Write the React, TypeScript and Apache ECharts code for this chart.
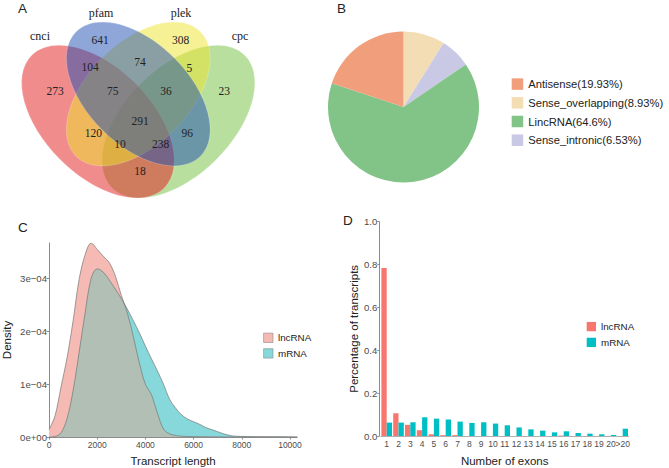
import React, { useEffect, useRef } from "react";
import * as echarts from "echarts";

// ---------- Panel A: Venn ----------
const vennSets = ["cnci", "pfam", "plek", "cpc"];
const vennCounts = [641, 308, 104, 74, 5, 273, 75, 36, 23, 291, 120, 96, 10, 238, 18];

// ---------- Panel B: pie ----------
const pieNames = ["Antisense(19.93%)", "Sense_overlapping(8.93%)", "LincRNA(64.6%)", "Sense_intronic(6.53%)"];
const pieValues = [19.93, 8.93, 64.6, 6.53];

// ---------- Panel C: density (units of 1e-4) ----------
const lengths = [0, 250, 500, 750, 1000, 1250, 1500, 1750, 2000, 2250, 2500, 2750, 3000, 3250, 3500, 3750, 4000, 4250, 4500, 4750, 5000, 5250, 5500, 5750, 6000, 6250, 6500, 6750, 7000, 7250, 7500, 7750, 8000, 8500, 9000, 9500, 10000, 10300];
const lncDensity = [0.14, 0.4, 0.95, 1.5, 2.2, 2.98, 3.45, 3.67, 3.55, 3.42, 3.3, 3.05, 2.68, 2.35, 1.9, 1.4, 1.0, 0.8, 0.45, 0.15, 0.06, 0.03, 0.015, 0.01, 0.008, 0.006, 0.004, 0.003, 0.002, 0.001, 0.001, 0.001, 0.001, 0.0, 0.0, 0.0, 0.0, 0.0];
const mrnaDensity = [0.0, 0.01, 0.08, 0.35, 0.88, 1.6, 2.35, 3.0, 3.18, 3.12, 2.97, 2.8, 2.62, 2.42, 2.2, 1.97, 1.72, 1.48, 1.25, 1.0, 0.72, 0.55, 0.42, 0.34, 0.29, 0.24, 0.18, 0.14, 0.1, 0.06, 0.03, 0.015, 0.01, 0.007, 0.005, 0.003, 0.002, 0.001];

// ---------- Panel D: exon numbers ----------
const exonCats = ["1", "2", "3", "4", "5", "6", "7", "8", "9", "10", "11", "12", "13", "14", "15", "16", "17", "18", "19", "20", ">20"];
const lncExon = [0.784, 0.106, 0.052, 0.027, 0.008, 0.004, 0.004, 0, 0, 0, 0, 0, 0, 0, 0, 0.002, 0, 0, 0, 0, 0];
const mrnaExon = [0.0625, 0.0625, 0.064, 0.0875, 0.081, 0.077, 0.067, 0.061, 0.064, 0.058, 0.05, 0.04, 0.031, 0.025, 0.017, 0.022, 0.014, 0.011, 0.008, 0.005, 0.034];

// ---------- layout / style ----------
const SANS = "Liberation Sans, Arial, sans-serif";
const SERIF = "Liberation Serif, Times New Roman, serif";
const vennCountPos = [[100, 40], [180.7, 40], [90, 66.7], [140, 62], [189.3, 67.7], [55, 91], [112.7, 91], [166, 91], [224.3, 91], [140, 120.7], [93.3, 133.3], [187.3, 133.3], [120, 144.3], [160.7, 144.3], [140, 171]];
const vennLabelPos = [[40, 36], [101, 13], [181, 13], [240, 36]];
const vennEllipses = [
  // draw order: cpc, cnci, plek, pfam
  { cx: 178.5, cy: 121.6, rx: 93.8, ry: 53.6, rot: Math.PI / 4, color: "rgba(115,191,61,0.5)" },
  { cx: 98, cy: 121.6, rx: 93.8, ry: 53.6, rot: -Math.PI / 4, color: "rgba(228,26,28,0.5)" },
  { cx: 138.3, cy: 94, rx: 88, ry: 51, rot: Math.PI / 4, color: "rgba(237,227,43,0.5)" },
  { cx: 138.3, cy: 94, rx: 88, ry: 51, rot: -Math.PI / 4, color: "rgba(29,77,177,0.5)" },
];
const pieColors: Record<string, string> = {
  "Antisense(19.93%)": "#F19E7D",
  "Sense_overlapping(8.93%)": "#F3DDB5",
  "LincRNA(64.6%)": "#82C487",
  "Sense_intronic(6.53%)": "#C9C9E6",
};
const pieDrawOrder = [1, 3, 2, 0];

export default function App() {
  const ref = useRef<HTMLDivElement>(null);
  useEffect(() => {
    if (!ref.current) return;
    const chart = echarts.init(ref.current, undefined, { renderer: "svg" });

    const lncPts = lengths.map((x, i) => [x, lncDensity[i]]);
    const mrnaPts = lengths.map((x, i) => [x, mrnaDensity[i]]);
    const overlapPts = lengths.map((x, i) => [x, Math.min(lncDensity[i], mrnaDensity[i])]);

    const graphics: any[] = [];
    vennEllipses.forEach((e) => {
      graphics.push({
        type: "ellipse",
        x: e.cx,
        y: e.cy,
        rotation: e.rot,
        shape: { cx: 0, cy: 0, rx: e.rx, ry: e.ry },
        style: { fill: e.color, stroke: "rgba(255,255,255,0.35)", lineWidth: 0.6 },
        silent: true,
      });
    });
    vennCounts.forEach((c, i) => {
      graphics.push({
        type: "text",
        x: vennCountPos[i][0],
        y: vennCountPos[i][1],
        style: { text: String(c), fill: "#222", font: `11.5px ${SERIF}`, textAlign: "center", textVerticalAlign: "middle" },
        silent: true,
      });
    });
    vennSets.forEach((s, i) => {
      graphics.push({
        type: "text",
        x: vennLabelPos[i][0],
        y: vennLabelPos[i][1],
        style: { text: s, fill: "#222", font: `12px ${SERIF}`, textAlign: "center", textVerticalAlign: "middle" },
        silent: true,
      });
    });
    const letters: [string, number, number][] = [["A", 18, 8], ["B", 337, 8], ["C", 18, 227], ["D", 343, 220]];
    letters.forEach(([t, x, y]) => {
      graphics.push({
        type: "text",
        x,
        y,
        style: { text: t, fill: "#222", font: `13.5px ${SANS}`, textAlign: "left", textVerticalAlign: "middle" },
        silent: true,
      });
    });

    const axisGray = "#8c8c8c";
    const tickLabel = { color: "#4d4d4d", fontFamily: SANS };
    const nameStyle = { color: "#222", fontFamily: SANS, fontSize: 11.5 };

    const option: any = {
      animation: false,
      backgroundColor: "#fff",
      graphic: graphics,
      grid: [
        { left: 48.5, top: 243, width: 248.7, height: 198 },
        { left: 380.8, top: 221.7, width: 247.8, height: 215 },
      ],
      legend: [
        {
          data: pieNames,
          left: 511.7,
          top: 78.2,
          padding: 0,
          orient: "vertical",
          icon: "rect",
          itemWidth: 11.5,
          itemHeight: 11.5,
          itemGap: 6.9,
          selectedMode: false,
          textStyle: { fontSize: 11.2, lineHeight: 11.8, color: "#222", fontFamily: SANS },
        },
        {
          data: [
            { name: "lncRNA", itemStyle: { color: "#F6BAB4", borderColor: "#8a8a8a", borderWidth: 0.6 } },
            { name: "mRNA", itemStyle: { color: "#86D8DA", borderColor: "#8a8a8a", borderWidth: 0.6 } },
          ],
          left: 263.3,
          top: 332.8,
          padding: 0,
          orient: "vertical",
          icon: "rect",
          itemWidth: 9.4,
          itemHeight: 9.4,
          itemGap: 5.6,
          selectedMode: false,
          textStyle: { fontSize: 9.8, lineHeight: 9.4, color: "#222", fontFamily: SANS },
        },
        {
          data: [
            { name: "lncRNA", itemStyle: { color: "#F8766D" } },
            { name: "mRNA", itemStyle: { color: "#00BFC4" } },
          ],
          left: 586.7,
          top: 321.6,
          padding: 0,
          orient: "vertical",
          icon: "rect",
          itemWidth: 9.3,
          itemHeight: 9.3,
          itemGap: 5.8,
          selectedMode: false,
          textStyle: { fontSize: 9.8, lineHeight: 9.3, color: "#222", fontFamily: SANS },
        },
      ],
      xAxis: [
        {
          gridIndex: 0,
          type: "value",
          min: 0,
          max: 10300,
          interval: 2000,
          splitLine: { show: false },
          axisLine: { show: true, lineStyle: { color: axisGray, width: 1 } },
          axisTick: { show: true, length: 2.5, lineStyle: { color: axisGray } },
          axisLabel: { ...tickLabel, fontSize: 8.5, margin: 3, showMaxLabel: false, formatter: (v: number) => String(v) },
          name: "Transcript length",
          nameLocation: "middle",
          nameGap: 18,
          nameTextStyle: nameStyle,
        },
        {
          gridIndex: 1,
          type: "category",
          data: exonCats,
          splitLine: { show: false },
          axisLine: { show: true, lineStyle: { color: "#b0b0b0", width: 1 } },
          axisTick: { show: false },
          axisLabel: { ...tickLabel, fontSize: 8.5, margin: 3, interval: 0 },
          name: "Number of exons",
          nameLocation: "middle",
          nameGap: 19,
          nameTextStyle: nameStyle,
        },
      ],
      yAxis: [
        {
          gridIndex: 0,
          type: "value",
          min: 0,
          max: 3.67,
          interval: 1,
          splitLine: { show: false },
          axisLine: { show: true, lineStyle: { color: axisGray, width: 1 } },
          axisTick: { show: true, length: 2.5, lineStyle: { color: axisGray } },
          axisLabel: {
            ...tickLabel,
            fontSize: 9.6,
            margin: 2,
            showMaxLabel: false,
            formatter: (v: number) => (v === 0 ? "0e+00" : `${Math.round(v)}e\u221204`),
          },
          name: "Density",
          nameLocation: "middle",
          nameGap: 36,
          nameTextStyle: nameStyle,
        },
        {
          gridIndex: 1,
          type: "value",
          min: 0,
          max: 1,
          interval: 0.2,
          offset: 1.5,
          splitLine: { show: false },
          axisLine: { show: true, lineStyle: { color: axisGray, width: 1 } },
          axisTick: { show: true, length: 2, lineStyle: { color: axisGray } },
          axisLabel: { ...tickLabel, fontSize: 9.6, margin: 2, formatter: (v: number) => v.toFixed(1) },
          name: "Percentage of transcripts",
          nameLocation: "middle",
          nameGap: 16,
          nameTextStyle: nameStyle,
        },
      ],
      series: [
        {
          type: "pie",
          center: [403.5, 107],
          radius: 75.5,
          startAngle: 90,
          clockwise: true,
          silent: true,
          label: { show: false },
          labelLine: { show: false },
          data: pieDrawOrder.map((i) => ({ name: pieNames[i], value: pieValues[i], itemStyle: { color: pieColors[pieNames[i]] } })),
        },
        {
          name: "lncRNA",
          type: "line",
          xAxisIndex: 0,
          yAxisIndex: 0,
          data: lncPts,
          smooth: 0.35,
          symbol: "none",
          silent: true,
          itemStyle: { color: "#F6BAB4" },
          lineStyle: { opacity: 0 },
          areaStyle: { color: "#F6BAB4", opacity: 1 },
        },
        {
          name: "mRNA",
          type: "line",
          xAxisIndex: 0,
          yAxisIndex: 0,
          data: mrnaPts,
          smooth: 0.35,
          symbol: "none",
          silent: true,
          itemStyle: { color: "#86D8DA" },
          lineStyle: { opacity: 0 },
          areaStyle: { color: "#86D8DA", opacity: 1 },
        },
        {
          name: "overlap",
          type: "line",
          xAxisIndex: 0,
          yAxisIndex: 0,
          data: overlapPts,
          smooth: 0.35,
          symbol: "none",
          silent: true,
          lineStyle: { opacity: 0 },
          areaStyle: { color: "#B1BFB4", opacity: 1 },
        },
        {
          name: "lncRNA outline",
          type: "line",
          xAxisIndex: 0,
          yAxisIndex: 0,
          data: lncPts,
          smooth: 0.35,
          symbol: "none",
          silent: true,
          lineStyle: { color: "#777", width: 0.7 },
        },
        {
          name: "mRNA outline",
          type: "line",
          xAxisIndex: 0,
          yAxisIndex: 0,
          data: mrnaPts,
          smooth: 0.35,
          symbol: "none",
          silent: true,
          lineStyle: { color: "#777", width: 0.7 },
        },
        {
          name: "lncRNA",
          type: "bar",
          xAxisIndex: 1,
          yAxisIndex: 1,
          data: lncExon,
          silent: true,
          barGap: "0%",
          barCategoryGap: "10%",
          itemStyle: { color: "#F8766D" },
        },
        {
          name: "mRNA",
          type: "bar",
          xAxisIndex: 1,
          yAxisIndex: 1,
          data: mrnaExon,
          silent: true,
          barGap: "0%",
          barCategoryGap: "10%",
          itemStyle: { color: "#00BFC4" },
        },
      ],
    };
    chart.setOption(option);
    return () => chart.dispose();
  }, []);
  return <div ref={ref} style={{ position: "fixed", left: 0, top: 0, width: 669, height: 468, background: "#fff" }} />;
}
